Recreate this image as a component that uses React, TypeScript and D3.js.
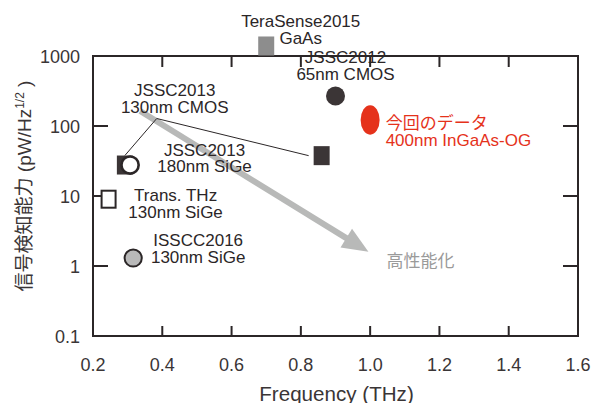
import React from "react";
import * as d3 from "d3";

// ---- data ----
const xTicks = [0.2, 0.4, 0.6, 0.8, 1.0, 1.2, 1.4, 1.6];
const xTickLabels = ["0.2", "0.4", "0.6", "0.8", "1.0", "1.2", "1.4", "1.6"];
const yTicks = [0.1, 1, 10, 100, 1000];
const yTickLabels = ["0.1", "1", "10", "100", "1000"];

// filled squares
const squareNames = ["TeraSense2015", "JSSC2013-a", "JSSC2013-b"];
const squareFreq = [0.70, 0.292, 0.86];
const squareVal = [1390, 27.7, 37.7];
const squareFill = ["#8d8d8d", "#3b3536", "#3b3536"];

// open square
const openSquareFreq = [0.245];
const openSquareVal = [9.0];

// circles
const circleNames = ["JSSC2012", "JSSC2013 SiGe", "ISSCC2016"];
const circleFreq = [0.90, 0.307, 0.316];
const circleVal = [268, 27.7, 1.3];
const circleFill = ["#3b3536", "#ffffff", "#b9b9b9"];

// this work
const thisWorkFreq = [1.0];
const thisWorkVal = [122];

// leader line junction (data coords)
const leaderJunction = { f: 0.384, v: 128 };

// trend arrow (data coords)
const arrowFrom = { f: 0.336, v: 164 };
const arrowTo = { f: 0.995, v: 1.6 };

const W = 593;
const H = 403;
const FONT = "'Liberation Sans', Arial, 'Noto Sans CJK JP', sans-serif";
const INK = "#2b2627";

export default function App() {
  const x = d3.scaleLinear().domain([0.2, 1.6]).range([93, 578]);
  const y = d3.scaleLog().domain([0.1, 1000]).range([336, 56]);
  const [x0, x1] = x.range();
  const [y0, y1] = y.range();

  // arrow geometry
  const ax1 = x(arrowFrom.f), ay1 = y(arrowFrom.v);
  const ax2 = x(arrowTo.f), ay2 = y(arrowTo.v);
  const len = Math.hypot(ax2 - ax1, ay2 - ay1);
  const ux = (ax2 - ax1) / len, uy = (ay2 - ay1) / len;
  const headL = 26, headW = 11;
  const bx = ax2 - ux * headL, by = ay2 - uy * headL;
  const head = [
    [ax2, ay2],
    [bx - uy * headW, by + ux * headW],
    [bx + uy * headW, by - ux * headW],
  ];

  const jx = x(leaderJunction.f), jy = y(leaderJunction.v);
  const SW = 16, SH = 19;

  const lbl = (cx: number, by: number, lines: string[], anchor = "middle", color = INK, size = 17) => (
    <text x={cx} y={by} textAnchor={anchor} fontSize={size} fill={color} fontFamily={FONT}>
      {lines.map((l, i) => (
        <tspan key={i} x={cx} dy={i === 0 ? 0 : 16.7}>{l}</tspan>
      ))}
    </text>
  );

  return (
    <svg width={W} height={H} style={{ position: "absolute", left: 0, top: 0 }} fontFamily={FONT}>
      <rect width={W} height={H} fill="#fff" />

      {/* frame */}
      <rect x={x0} y={y1} width={x1 - x0} height={y0 - y1} fill="none" stroke={INK} strokeWidth={2} />
      {/* x ticks bottom and top */}
      {xTicks.slice(1, -1).map((t, i) => (
        <g key={"xt" + i}>
          <line x1={x(t)} x2={x(t)} y1={y0} y2={y0 - 10} stroke={INK} strokeWidth={2} />
          <line x1={x(t)} x2={x(t)} y1={y1} y2={y1 + 11} stroke={INK} strokeWidth={2} />
        </g>
      ))}
      {xTicks.map((t, i) => (
        <text key={"xl" + i} x={x(t)} y={371} textAnchor="middle" fontSize={18} fill="#3a3536">
          {xTickLabels[i]}
        </text>
      ))}
      {/* y ticks */}
      {yTicks.slice(1, -1).map((t, i) => (
        <g key={"yt" + i}>
          <line x1={x0} x2={x0 + 15} y1={y(t)} y2={y(t)} stroke={INK} strokeWidth={2} />
          <line x1={x1} x2={x1 - 15} y1={y(t)} y2={y(t)} stroke={INK} strokeWidth={2} />
        </g>
      ))}
      {yTicks.map((t, i) => (
        <text key={"yl" + i} x={80} y={y(t) + 6.5} textAnchor="end" fontSize={18} fill="#3a3536">
          {yTickLabels[i]}
        </text>
      ))}

      {/* axis titles */}
      <text x={(x0 + x1) / 2 + 1} y={401} textAnchor="middle" fontSize={20.6} fill="#3a3536">
        Frequency (THz)
      </text>
      <text transform={`translate(31,186) rotate(-90)`} textAnchor="middle" fontSize={19} fill="#3a3536">
        信号検知能力 (pW/Hz
        <tspan fontSize={12} dy={-7}>1/2</tspan>
        <tspan dy={7}> )</tspan>
      </text>

      {/* trend arrow */}
      <line x1={ax1} y1={ay1} x2={bx + ux * 2} y2={by + uy * 2} stroke="#b8b9b8" strokeWidth={6} />
      <polygon points={head.map((p) => p.join(",")).join(" ")} fill="#b8b9b8" />
      {lbl(ax2 + 18, ay2 + 15, ["高性能化"], "start", "#9a9a9a", 17)}

      {/* leader lines */}
      <line x1={jx} y1={jy} x2={x(squareFreq[1])} y2={y(squareVal[1]) - SH / 2} stroke={INK} strokeWidth={1} />
      <line x1={jx} y1={jy} x2={x(squareFreq[2]) - SW / 2 - 5} y2={y(squareVal[2])} stroke={INK} strokeWidth={1} />

      {/* squares */}
      {squareFreq.map((f, i) => (
        <rect key={"sq" + squareNames[i]} x={x(f) - SW / 2} y={y(squareVal[i]) - SH / 2} width={SW} height={SH} fill={squareFill[i]} />
      ))}
      {openSquareFreq.map((f, i) => (
        <rect key={"osq" + i} x={x(f) - SW / 2 + 1} y={y(openSquareVal[i]) - SH / 2 + 1} width={SW - 2} height={SH - 2} fill="#fff" stroke={INK} strokeWidth={2} />
      ))}
      {/* circles */}
      {circleFreq.map((f, i) => (
        <circle key={"c" + circleNames[i]} cx={x(f)} cy={y(circleVal[i])} r={i === 0 ? 9.5 : 8.6} fill={circleFill[i]} stroke={i === 0 ? "none" : INK} strokeWidth={i === 1 ? 2.6 : 2} />
      ))}
      {/* this work */}
      {thisWorkFreq.map((f, i) => (
        <ellipse key={"tw" + i} cx={x(f)} cy={y(thisWorkVal[i])} rx={9.5} ry={14.7} fill="#e5321b" />
      ))}

      {/* labels */}
      {lbl(x(squareFreq[0]) + 34.5, y(squareVal[0]) - 19, ["TeraSense2015", "GaAs"])}
      {lbl(x(circleFreq[0]) + 10, y(circleVal[0]) - 33, ["JSSC2012", "65nm CMOS"])}
      {lbl(x(thisWorkFreq[0]) + 15.5, y(thisWorkVal[0]) + 9.5, ["今回のデータ", "400nm InGaAs-OG"], "start", "#e5321b")}
      {lbl(jx + 18, jy - 22, ["JSSC2013", "130nm CMOS"])}
      {lbl(x(circleFreq[1]) + 74.5, y(circleVal[1]) - 9.3, ["JSSC2013", "180nm SiGe"])}
      {lbl(x(openSquareFreq[0]) + 67, y(openSquareVal[0]) + 1.7, ["Trans. THz", "130nm SiGe"])}
      {lbl(x(circleFreq[2]) + 65, y(circleVal[2]) - 11.6, ["ISSCC2016", "130nm SiGe"])}
    </svg>
  );
}
